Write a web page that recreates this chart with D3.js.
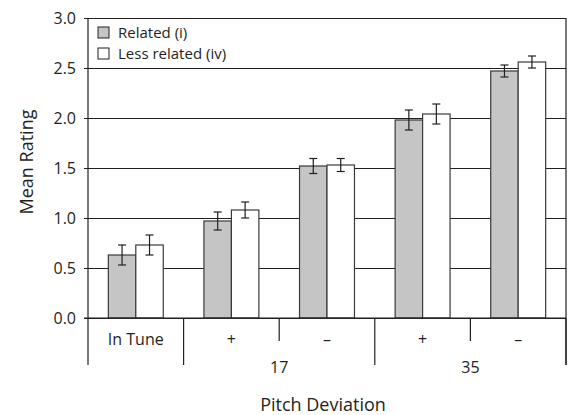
<!DOCTYPE html>
<html>
<head>
<meta charset="utf-8">
<script src="https://cdn.jsdelivr.net/npm/d3@7"></script>
<style>
  body { margin: 0; background: #fff; }
  text { font-family: "Open Sans", "Noto Sans", sans-serif; fill: #231f20; }
</style>
</head>
<body>
<script>
"use strict";

// chart data
var groups = ["In Tune", "+", "\u2013", "+", "\u2013"];
var seriesNames = ["Related (i)", "Less related (iv)"];
var related = [0.63, 0.97, 1.52, 1.98, 2.47];
var lessRelated = [0.73, 1.08, 1.53, 2.04, 2.56];
var relatedErr = [0.10, 0.09, 0.075, 0.10, 0.06];
var lessRelatedErr = [0.10, 0.08, 0.065, 0.10, 0.06];
var yTicks = [0, 0.5, 1.0, 1.5, 2.0, 2.5, 3.0];
// second level of category labels: which groups belong to each deviation
var deviationLabels = ["17", "35"];
var deviationSpans = [[1, 3], [3, 5]];

var W = 570, H = 415;
var MARGIN = { TOP: 18, RIGHT: 4, BOTTOM: 95, LEFT: 88 };
var seriesFill = ["#c4c5c4", "#ffffff"];

var svg = d3.select("body").append("svg")
    .attr("width", W)
    .attr("height", H);

var x = d3.scaleBand()
    .domain(d3.range(groups.length))
    .range([MARGIN.LEFT, W - MARGIN.RIGHT])
    .padding(0);

var xInner = d3.scaleBand()
    .domain(d3.range(seriesNames.length))
    .range([0, x.bandwidth()])
    .paddingInner(0)
    .paddingOuter(0.74);

var y = d3.scaleLinear()
    .domain([0, 3])
    .range([H - MARGIN.BOTTOM - 2, MARGIN.TOP]);

var plotRight = W - MARGIN.RIGHT;
var baseY = y(0);

// gridlines + y axis
var yAxis = d3.axisLeft(y)
    .tickValues(yTicks)
    .tickSize(-(plotRight - MARGIN.LEFT))
    .tickPadding(12)
    .tickFormat(d3.format(".1f"));

var gy = svg.append("g")
    .attr("transform", "translate(" + MARGIN.LEFT + ",0)")
    .call(yAxis);
gy.select(".domain").remove();
gy.selectAll(".tick line")
    .attr("x1", -4)
    .attr("stroke", "#231f20")
    .attr("stroke-width", 1.2);
gy.selectAll(".tick text")
    .attr("font-size", 16)
    .attr("fill", "#231f20")
    .style("font-family", "'Open Sans', sans-serif");

// left axis line
svg.append("line")
    .attr("x1", MARGIN.LEFT).attr("x2", MARGIN.LEFT)
    .attr("y1", MARGIN.TOP).attr("y2", baseY + 47)
    .attr("stroke", "#231f20").attr("stroke-width", 1.2);

// bars
var rows = groups.map(function(g, i) {
    return [
        { g: i, s: 0, v: related[i], e: relatedErr[i] },
        { g: i, s: 1, v: lessRelated[i], e: lessRelatedErr[i] }
    ];
});

var groupSel = svg.append("g").selectAll("g")
    .data(rows)
    .enter().append("g")
    .attr("transform", function(d, i) { return "translate(" + x(i) + ",0)"; });

groupSel.selectAll("rect")
    .data(function(d) { return d; })
    .enter().append("rect")
    .attr("x", function(d) { return xInner(d.s); })
    .attr("y", function(d) { return y(d.v); })
    .attr("width", xInner.bandwidth())
    .attr("height", function(d) { return baseY - y(d.v); })
    .attr("fill", function(d) { return seriesFill[d.s]; })
    .attr("stroke", "#3a3a3a")
    .attr("stroke-width", 1.2);

// error bars
var errG = groupSel.selectAll("g.err")
    .data(function(d) { return d; })
    .enter().append("g")
    .attr("class", "err")
    .attr("stroke", "#231f20")
    .attr("stroke-width", 1.2);

errG.append("line")
    .attr("x1", function(d) { return xInner(d.s) + xInner.bandwidth() / 2; })
    .attr("x2", function(d) { return xInner(d.s) + xInner.bandwidth() / 2; })
    .attr("y1", function(d) { return y(d.v + d.e); })
    .attr("y2", function(d) { return y(d.v - d.e); });

[1, -1].forEach(function(sign) {
    errG.append("line")
        .attr("x1", function(d) { return xInner(d.s) + xInner.bandwidth() / 2 - 4; })
        .attr("x2", function(d) { return xInner(d.s) + xInner.bandwidth() / 2 + 4; })
        .attr("y1", function(d) { return y(d.v + sign * d.e); })
        .attr("y2", function(d) { return y(d.v + sign * d.e); });
});

// baseline
svg.append("line")
    .attr("x1", MARGIN.LEFT - 4).attr("x2", plotRight)
    .attr("y1", baseY).attr("y2", baseY)
    .attr("stroke", "#231f20").attr("stroke-width", 1.2);

// right border of the chart frame
svg.append("line")
    .attr("x1", plotRight).attr("x2", plotRight)
    .attr("y1", MARGIN.TOP).attr("y2", baseY + 47)
    .attr("stroke", "#231f20").attr("stroke-width", 1.2);

// category separators below the axis
var fullBounds = [0, 1];
deviationSpans.forEach(function(s) { fullBounds.push(s[1]); });
for (var b = 1; b <= groups.length; b++)
{
    var isFull = fullBounds.indexOf(b) >= 0;
    var bx = b < groups.length ? x(b) : plotRight;
    svg.append("line")
        .attr("x1", bx).attr("x2", bx)
        .attr("y1", baseY)
        .attr("y2", baseY + (isFull ? 47 : 23))
        .attr("stroke", "#231f20").attr("stroke-width", 1.2);
}

// first level labels
svg.append("g").selectAll("text")
    .data(groups)
    .enter().append("text")
    .attr("x", function(d, i) { return x(i) + x.bandwidth() / 2; })
    .attr("y", baseY + 27)
    .attr("text-anchor", "middle")
    .attr("font-size", 16)
    .text(function(d) { return d; });

// second level labels
svg.append("g").selectAll("text")
    .data(deviationLabels)
    .enter().append("text")
    .attr("x", function(d, i) {
        var s = deviationSpans[i];
        var right = s[1] < groups.length ? x(s[1]) : plotRight;
        return (x(s[0]) + right) / 2;
    })
    .attr("y", baseY + 55)
    .attr("text-anchor", "middle")
    .attr("font-size", 16)
    .text(function(d) { return d; });

// axis titles
svg.append("text")
    .attr("x", 323)
    .attr("y", 411)
    .attr("text-anchor", "middle")
    .attr("font-size", 18)
    .text("Pitch Deviation");

svg.append("text")
    .attr("transform", "translate(33,162) rotate(-90)")
    .attr("text-anchor", "middle")
    .attr("font-size", 18)
    .text("Mean Rating");

// legend
var legend = svg.append("g")
    .attr("transform", "translate(98,27)");
var legendItem = legend.selectAll("g")
    .data(seriesNames)
    .enter().append("g")
    .attr("transform", function(d, i) { return "translate(0," + (i * 21) + ")"; });
legendItem.append("rect")
    .attr("width", 11).attr("height", 11)
    .attr("fill", function(d, i) { return seriesFill[i]; })
    .attr("stroke", "#231f20")
    .attr("stroke-width", 1);
legendItem.append("text")
    .attr("x", 20)
    .attr("y", 10.5)
    .attr("font-size", 15)
    .text(function(d) { return d; });
</script>
</body>
</html>
